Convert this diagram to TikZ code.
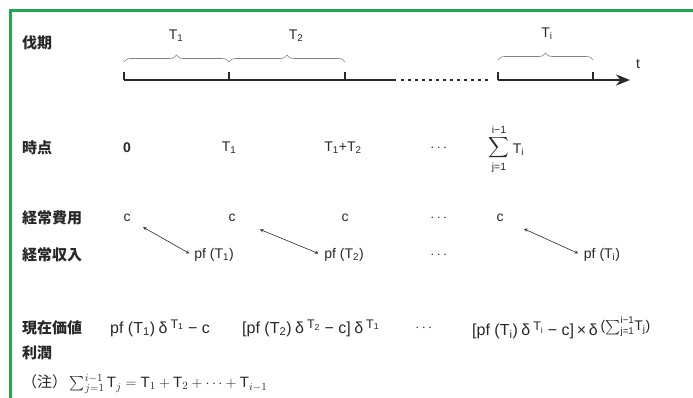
\documentclass[tikz,border=0pt]{standalone}
\usepackage{amsmath}
\usepackage{fontspec}
\setmainfont{Liberation Sans}
\newfontfamily\jpfont{Noto Sans CJK JP}
\usepackage{tikz}
\usetikzlibrary{arrows,arrows.meta,positioning,calc,decorations.pathreplacing}

\definecolor{framegreen}{RGB}{30,168,74}
\definecolor{inkgray}{RGB}{40,40,40}
\newcommand{\Tsb}[1]{T\textsubscript{#1}}
\newcommand{\rsup}[2][12.5]{\raisebox{0.6ex}{\fontsize{#1}{13}\selectfont #2}}
\newcommand{\dlt}[1]{\hspace{3.5pt}δ\hspace{3pt}\rsup{#1}}
\newcommand{\mns}{\hspace{4.5pt}−\hspace{4.5pt}}

\begin{document}
\begin{tikzpicture}[x=1pt, y=-1pt,
  every node/.style={text=inkgray, font=\fontsize{14}{16}\selectfont, inner sep=2pt},
  rowlbl/.style={anchor=west, font=\jpfont\bfseries\fontsize{15}{17}\selectfont},
  pvtxt/.style={anchor=west, font=\fontsize{16}{18}\selectfont},
  limtxt/.style={inner sep=0pt, font=\fontsize{10.5}{11}\selectfont},
  axis/.style={draw=inkgray, line width=2pt},
  tick/.style={draw=inkgray, line width=1.4pt},
  brc/.style={draw=gray, line width=0.6pt, decorate, decoration={brace, amplitude=7pt}},
  arr/.style={<->, >=stealth, draw=inkgray, semithick},
  frame/.style={draw=framegreen, line width=3pt}
]
\useasboundingbox (0,0) rectangle (693,398);
\draw[frame] (10,398) -- (10,11) -- (693,11);

% time axis
\coordinate (a0) at (124,80);
\coordinate (a1) at (229,80);
\coordinate (a2) at (345,80);
\coordinate (a3) at (396,80);
\coordinate (a4) at (498,80);
\coordinate (a5) at (593,80);
\coordinate (aend) at (630,80);
\draw[axis] (a0) -- (a3);
\draw[axis, dash pattern=on 2.5pt off 4.5pt] ($(a3)+(5,0)$) -- ($(a4)+(-6,0)$);
\draw[axis, -{Stealth[length=14pt,width=11pt]}] (a4) -- (aend);
\foreach \k in {0,1,2,4,5}
  \draw[tick] (a\k) -- ++(0,-8);
\draw[brc] ($(a0)+(0,-18)$) -- ($(a1)+(0,-18)$);
\draw[brc] ($(a1)+(0,-18)$) -- ($(a2)+(0,-18)$);
\draw[brc] ($(a4)+(0,-20)$) -- ($(a5)+(0,-20)$);
\node (lT1) at (176,36) {\Tsb{1}};
\node (lT2) at (296,36) {\Tsb{2}};
\node (lTi) at (547,34) {\Tsb{i}};
\node (tlab) at (638,64) {t};

% row labels
\node[rowlbl] (bakki)  at (20,43)  {伐期};
\node[rowlbl] (jiten)  at (20,148) {時点};
\node[rowlbl] (hiyo)   at (20,218) {経常費用};
\node[rowlbl] (shunyu) at (20,255) {経常収入};
\node[rowlbl] (genka)  at (20,328) {現在価値};
\node[rowlbl] (rijun)  at (20,353) {利潤};

% time points
\node (p0)    at (127,148) {\textbf{0}};
\node (p1)    at (229,148) {\Tsb{1}};
\node (p2)    at (343,148) {\Tsb{1}+\Tsb{2}};
\node (pdots) at (440,148) {$\cdots$};
\node[inner sep=0pt] (sig) at (499,148) {$\displaystyle\sum$};
\node[limtxt, above=3pt of sig] (sigup) {i−1};
\node[limtxt, below=3pt of sig] (siglo) {j=1};
\node[right=1pt of sig, yshift=-2pt] (sigT) {\Tsb{i}};

% costs and revenues
\node (c1)     at (127,218) {c};
\node (c2)     at (232,218) {c};
\node (c3)     at (345,218) {c};
\node (cdots)  at (440,218) {$\cdots$};
\node (ci)     at (500,218) {c};
\node (pf1)    at (214,255) {pf (\Tsb{1})};
\node (pf2)    at (344,255) {pf (\Tsb{2})};
\node (pfdots) at (440,255) {$\cdots$};
\node (pfi)    at (602,255) {pf (\Tsb{i})};
\draw[arr, shorten <=12pt, shorten >=3pt] (c1) -- (pf1.west);
\draw[arr, shorten <=24pt, shorten >=4pt] (c2) -- (pf2.west);
\draw[arr, shorten <=20pt, shorten >=4pt] (ci) -- (pfi.west);

% present values
\node[pvtxt] (pv1)    at (108,328) {pf (\Tsb{1})\dlt{\Tsb{1}}\mns c};
\node[pvtxt] (pv2)    at (240,328) {[pf (\Tsb{2})\dlt{\Tsb{2}}\mns c]\dlt{\Tsb{1}}};
\node        (pvdots) at (425,328) {$\cdots$};
\node[pvtxt] (pvi)    at (470,328) {[pf (\Tsb{i})\dlt{\Tsb{i}}\mns c]\,×\,δ\hspace{3pt}\rsup[14]{($\sum_{\text{j=1}}^{\text{i−1}}$\Tsb{j})}};

\node[anchor=west, font=\fontsize{15}{17}\selectfont] (note) at (20,384)
  {{\jpfont （注）}\,$\sum_{j=1}^{i-1}\mathrm{T}_j=\mathrm{T}_1+\mathrm{T}_2+\cdots+\mathrm{T}_{i-1}$};
\end{tikzpicture}
\end{document}
